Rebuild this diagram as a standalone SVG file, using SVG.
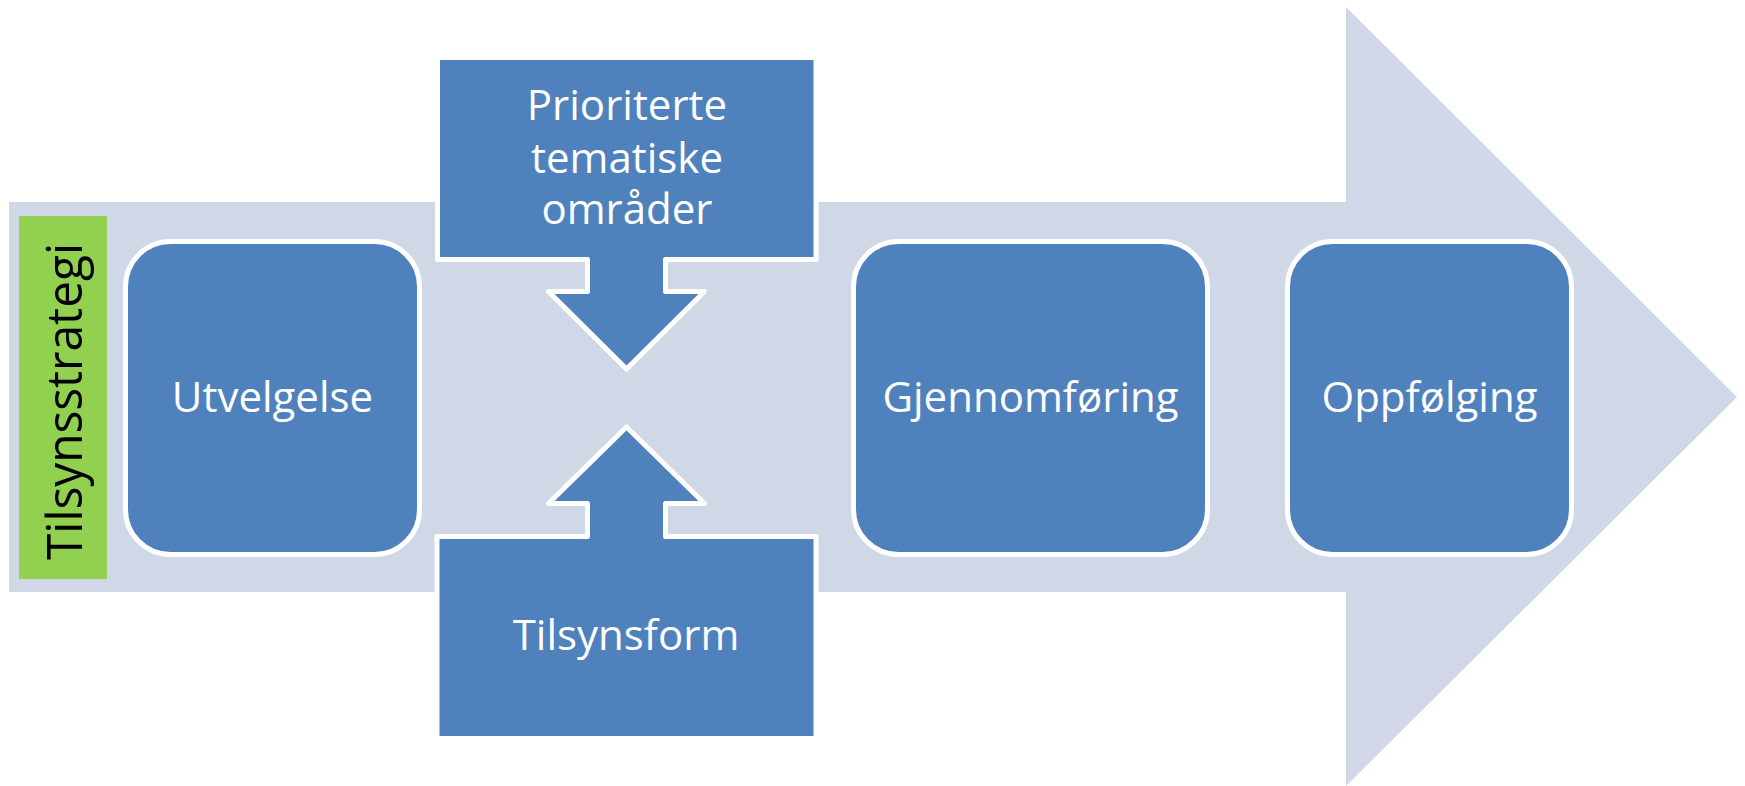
<svg xmlns="http://www.w3.org/2000/svg" width="1745" height="786" viewBox="0 0 1745 786">
<style>
.box{fill:#4F81BD;stroke:#FFFFFF;stroke-width:5;stroke-linejoin:round}
.lbl{font-family:"Open Sans","Noto Sans","Liberation Sans",sans-serif;font-size:42px;fill:#FFFFFF;text-anchor:middle}
.vlbl{font-family:"Open Sans","Noto Sans","Liberation Sans",sans-serif;font-size:50px;fill:#000000;text-anchor:middle}
</style>
<rect x="0" y="0" width="1745" height="786" fill="#FFFFFF"/>
<g id="process-arrow">
<polygon points="9,202 1346,202 1346,7 1737,397 1346,786 1346,592 9,592" fill="#D0D8E8"/>
</g>
<g id="tilsynsstrategi">
<rect x="19" y="216" width="88" height="363" fill="#92D050"/>
<text class="vlbl" transform="translate(82,401.5) rotate(-90)" x="0" y="0" textLength="317" lengthAdjust="spacingAndGlyphs">Tilsynsstrategi</text>
</g>
<g id="utvelgelse">
<rect class="box" x="125.5" y="241.5" width="294" height="313" rx="45" ry="45"/>
<text class="lbl" x="272.5" y="412">Utvelgelse</text>
</g>
<g id="prioriterte">
<path class="box" d="M437.5,57.5 H816 V259.5 H665.5 V291.5 H704.5 L626.5,369 L548.5,291.5 H587.5 V259.5 H437.5 Z"/>
<text class="lbl" x="627" y="120">Prioriterte</text>
<text class="lbl" x="627" y="172.5">tematiske</text>
<text class="lbl" x="627" y="224">områder</text>
</g>
<g id="tilsynsform">
<path class="box" d="M437,738.5 H816 V536.5 H665.5 V503.5 H704.5 L626.5,427 L548.5,503.5 H587.5 V536.5 H437 Z"/>
<text class="lbl" x="626" y="650">Tilsynsform</text>
</g>
<g id="gjennomforing">
<rect class="box" x="853.5" y="241.5" width="354" height="313" rx="45" ry="45"/>
<text class="lbl" x="1030.5" y="412">Gjennomføring</text>
</g>
<g id="oppfolging">
<rect class="box" x="1287.5" y="241.5" width="284" height="313" rx="45" ry="45"/>
<text class="lbl" x="1429.5" y="412">Oppfølging</text>
</g>
<g id="connectors"></g>
</svg>
